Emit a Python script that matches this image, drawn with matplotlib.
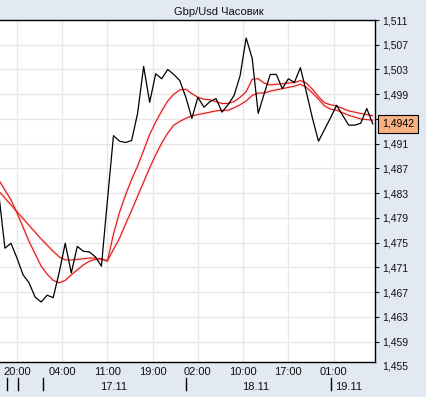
import matplotlib
matplotlib.use("Agg")
import matplotlib.pyplot as plt
import matplotlib.transforms as mtransforms

plt.rcParams['font.family'] = ['Liberation Sans', 'DejaVu Sans']

# hourly bars, hour 24 = 17.11 00:00
hours = list(range(17, 80))
close = [1.4827, 1.4741, 1.4749, 1.4725, 1.4698, 1.4685, 1.4662, 1.4654, 1.4665, 1.4661,
         1.4702, 1.4749, 1.4701, 1.4744, 1.4736, 1.4735, 1.4727, 1.4712, 1.4819, 1.4923,
         1.4914, 1.4912, 1.4915, 1.4959, 1.5035, 1.4977, 1.5023, 1.5015, 1.5030, 1.5022,
         1.5012, 1.4985, 1.4951, 1.4985, 1.4969, 1.4978, 1.4983, 1.4961, 1.4973, 1.4988,
         1.5020, 1.5081, 1.5048, 1.4959, 1.4991, 1.5022, 1.5022, 1.4999, 1.5015, 1.5009,
         1.5033, 1.4993, 1.4951, 1.4914, 1.4933, 1.4952, 1.4972, 1.4956, 1.4940, 1.4940,
         1.4943, 1.4967, 1.4942]
ma_fast = [1.4851, 1.4835, 1.4819, 1.4798, 1.4775, 1.4752, 1.4732, 1.4712, 1.4699, 1.4689,
           1.4685, 1.4689, 1.4698, 1.4706, 1.4714, 1.4720, 1.4723, 1.4724, 1.4720, 1.4764,
           1.4799, 1.4827, 1.4852, 1.4874, 1.4899, 1.4925, 1.4945, 1.4963, 1.4979, 1.4990,
           1.4997, 1.4998, 1.4991, 1.4985, 1.4982, 1.4981, 1.4978, 1.4975, 1.4975, 1.4978,
           1.4985, 1.4994, 1.5014, 1.5015, 1.5008, 1.5005, 1.5006, 1.5007, 1.5008, 1.5009,
           1.5012, 1.5008, 1.4998, 1.4986, 1.4976, 1.4973, 1.4971, 1.4967, 1.4963, 1.4961,
           1.4959, 1.4957, 1.4955]
ma_slow = [1.4833, 1.4822, 1.4811, 1.4800, 1.4789, 1.4778, 1.4767, 1.4756, 1.4746, 1.4736,
           1.4727, 1.4722, 1.4722, 1.4723, 1.4724, 1.4725, 1.4725, 1.4723, 1.4721, 1.4739,
           1.4757, 1.4780, 1.4802, 1.4825, 1.4848, 1.4871, 1.4892, 1.4911, 1.4927, 1.4940,
           1.4946, 1.4951, 1.4955, 1.4957, 1.4959, 1.4961, 1.4963, 1.4964, 1.4964, 1.4968,
           1.4973, 1.4979, 1.4988, 1.4992, 1.4992, 1.4995, 1.4997, 1.4999, 1.5001, 1.5003,
           1.5006, 1.5001, 1.4992, 1.4982, 1.4971, 1.4966, 1.4964, 1.4960, 1.4956, 1.4953,
           1.4950, 1.4949, 1.4948]

grid_hours = [20, 27.5, 35, 42.5, 50, 57.5, 65, 72.5]
grid_labels = ["20:00", "04:00", "11:00", "19:00", "02:00", "10:00", "17:00", "01:00"]
day_marks = [18.3, 20.2, 24.3, 48, 72]
day_label_hours = [36, 59.6, 75]
day_labels = ["17.11", "18.11", "19.11"]
price_ticks = [1.459, 1.463, 1.467, 1.471, 1.475, 1.479, 1.483, 1.487,
               1.491, 1.495, 1.499, 1.503, 1.507, 1.511]
last_price = 1.4942
title = "Gbp/Usd Часовик"

bg = "#E2E9F2"
fig = plt.figure(figsize=(4.26, 3.97), dpi=100, facecolor=bg)
ax = fig.add_axes([0, 35 / 397, 375 / 426, 342 / 397])
ax.set_facecolor("white")
ax.set_xlim(17.18, 79.37)
ax.set_ylim(1.4557, 1.511)

for h in grid_hours:
    ax.axvline(h, color="#e8e8e8", lw=1, zorder=0)
for p in price_ticks:
    ax.axhline(p, color="#e8e8e8", lw=1, zorder=0)

# moving averages with a soft pink halo
for ma in (ma_slow, ma_fast):
    ax.plot(hours, ma, color="#ff9a9a", lw=2.6, alpha=0.18, solid_capstyle="round")
    ax.plot(hours, ma, color="#dd1111", lw=0.8)
ax.plot(hours, close, color="black", lw=0.9)

ax.spines["left"].set_visible(False)
for s in ("top", "right", "bottom"):
    ax.spines[s].set_color("black")
    ax.spines[s].set_linewidth(1)

ax.yaxis.tick_right()
ax.set_yticks(price_ticks)
ax.set_yticklabels(["" if abs(p - 1.495) < 1e-9 else ("%.3f" % p).replace(".", ",")
                    for p in price_ticks])
ax.tick_params(axis="y", length=3, width=0.8, pad=2, labelsize=7.5, colors="#111111")
ax.set_xticks(grid_hours)
ax.set_xticklabels(grid_labels)
ax.tick_params(axis="x", length=0, pad=3.5, labelsize=8, colors="#111111")

trans_r = mtransforms.blended_transform_factory(ax.transAxes, ax.transData)
ax.annotate("1,455", xy=(1, 1.455), xycoords=trans_r, xytext=(5, 0),
            textcoords="offset points", va="center", ha="left", fontsize=7.5,
            color="#111111", annotation_clip=False)
ax.annotate("1,4942", xy=(1, last_price), xycoords=trans_r, xytext=(5, 0),
            textcoords="offset points", va="center", ha="left", fontsize=7.5,
            annotation_clip=False, zorder=10,
            bbox=dict(boxstyle="square,pad=0.4", fc="#F7B183", ec="black", lw=0.8))

trans_b = mtransforms.blended_transform_factory(ax.transData, ax.transAxes)
for h in day_marks:
    ax.plot([h, h], [-0.048, -0.082], color="black", lw=1, transform=trans_b, clip_on=False)
for h, lab in zip(day_label_hours, day_labels):
    ax.text(h, -0.073, lab, transform=trans_b, ha="center", va="center", fontsize=8,
            color="#111111")

fig.text(219 / 426, 1 - 12 / 397, title, ha="center", va="center", fontsize=8,
         color="#111111")

fig.savefig("out.png", dpi=100, facecolor=bg)
